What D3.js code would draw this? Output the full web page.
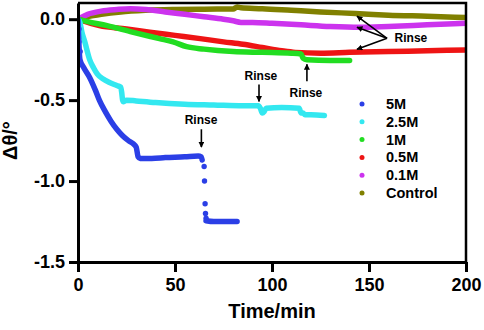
<!DOCTYPE html>
<html>
<head>
<meta charset="utf-8">
<script src="https://cdn.jsdelivr.net/npm/d3@7"></script>
<style>
  body { margin: 0; background: #fff; }
  text { font-family: "Liberation Sans", Arial, sans-serif; font-weight: bold; }
</style>
</head>
<body>
<div id="chart"></div>
<script>
// [time (min), delta theta (deg)]
const fiveM = [[0, 0], [1, -0.25], [3, -0.3], [6, -0.36], [9, -0.44], [11, -0.5], [14, -0.57], [17, -0.63],
  [20, -0.68], [23, -0.72], [26, -0.75], [28.5, -0.77], [30, -0.79], [31, -0.85], [32, -0.86], [38, -0.86],
  [45, -0.855], [55, -0.85], [62, -0.845], [63.5, -0.85], [64, -0.87]]
const fiveMStart = [[0, -0.06], [0, -0.14], [0.6, -0.2]]
const fiveMDrop = [[64.5, -0.91], [64.7, -1.0], [65, -1.14], [65.2, -1.2], [65.5, -1.23]]
const fiveMEnd = [[66, -1.245], [70, -1.25], [76, -1.25], [82, -1.25]]
const twoHalfM = [[0, 0], [1, -0.02], [2, -0.08], [3.5, -0.14], [6, -0.25], [8, -0.3], [10, -0.34], [13, -0.37],
  [16, -0.39], [20, -0.41], [22, -0.42], [22.5, -0.45], [23, -0.5], [23.5, -0.51], [25, -0.5], [30, -0.505],
  [40, -0.515], [55, -0.525], [70, -0.53], [85, -0.535], [93, -0.535], [94, -0.55], [95, -0.58], [96, -0.57],
  [97, -0.55], [105, -0.545], [114, -0.55], [115, -0.58], [116, -0.58], [117, -0.59], [120, -0.59], [127, -0.595]]
const oneM = [[0, 0], [5, -0.015], [15, -0.04], [28, -0.08], [42, -0.12], [49, -0.14], [56, -0.17], [65, -0.185],
  [80, -0.2], [95, -0.205], [110, -0.21], [115, -0.215], [116, -0.24], [118, -0.25], [130, -0.255], [140, -0.255]]
const halfM = [[0, 0], [11, -0.04], [25, -0.06], [37, -0.08], [50, -0.1], [63, -0.12], [75, -0.14], [85, -0.155],
  [95, -0.175], [105, -0.195], [112, -0.205], [125, -0.21], [140, -0.205], [160, -0.2], [180, -0.195], [200, -0.19]]
const tenthM = [[0, 0], [5, 0.03], [12, 0.05], [20, 0.06], [27, 0.065], [35, 0.06], [45, 0.045], [55, 0.03],
  [65, 0.015], [75, 0], [80, -0.01], [84, -0.02], [90, -0.02], [100, -0.025], [115, -0.035], [130, -0.045],
  [145, -0.05], [160, -0.045], [180, -0.035], [200, -0.025]]
const control = [[0, 0], [5, 0.015], [12, 0.03], [22, 0.045], [35, 0.055], [50, 0.06], [65, 0.062], [80, 0.063],
  [82, 0.075], [84, 0.07], [95, 0.065], [110, 0.055], [125, 0.045], [143, 0.035], [160, 0.025], [180, 0.018], [200, 0.01]]

const seriesNames = ['5M', '2.5M', '1M', '0.5M', '0.1M', 'Control']
const seriesColors = ['#2b3fe6', '#33e8f0', '#22dd22', '#ee1414', '#cc33ee', '#808000']
const xTicks = [0, 50, 100, 150, 200]
const yTicks = [0, -0.5, -1.0, -1.5]

// rinse annotations: label [t, v], arrows [[t0, v0], [t1, v1]] (head at t1, v1)
const rinseLabels = [[63.4, -0.65], [94.3, -0.378], [117.5, -0.483], [171.6, -0.143]]
const rinseArrows = [
  [[63.6, -0.68], [63.6, -0.79]],
  [[93.3, -0.403], [93.3, -0.508]],
  [[118, -0.384], [118, -0.279]],
  [[159.3, -0.118], [143.8, 0.019]],
  [[159.3, -0.118], [143.8, -0.05]],
  [[159.3, -0.118], [143.8, -0.186]]
]

const width = 484
const height = 330
const margin = { top: 3, right: 18, bottom: 68, left: 78 }

const svg = d3.select('#chart').append('svg')
  .attr('width', width).attr('height', height)

const x = d3.scaleLinear().domain([0, 200]).range([margin.left, width - margin.right])
const y = d3.scaleLinear().domain([-1.5, 0.1]).range([height - margin.bottom, margin.top])

svg.append('defs').append('clipPath').attr('id', 'plot')
  .append('rect')
  .attr('x', x(0)).attr('y', y(0.1))
  .attr('width', x(200) - x(0)).attr('height', y(-1.5) - y(0.1))

const line = d3.line().x(d => x(d[0])).y(d => y(d[1])).curve(d3.curveMonotoneX)

const plot = svg.append('g').attr('clip-path', 'url(#plot)')

const lines = [control, tenthM, halfM, oneM, twoHalfM]
const lineColors = [seriesColors[5], seriesColors[4], seriesColors[3], seriesColors[2], seriesColors[1]]
lines.forEach((data, i) => {
  plot.append('path')
    .attr('d', line(data))
    .attr('fill', 'none')
    .attr('stroke', lineColors[i])
    .attr('stroke-width', 5.5)
    .attr('stroke-linecap', 'round')
    .attr('stroke-linejoin', 'round')
})

;[fiveM, fiveMEnd].forEach(data => {
  plot.append('path')
    .attr('d', line(data))
    .attr('fill', 'none')
    .attr('stroke', seriesColors[0])
    .attr('stroke-width', 5.5)
    .attr('stroke-linecap', 'round')
    .attr('stroke-linejoin', 'round')
})

plot.selectAll('circle.drop')
  .data(fiveMStart.concat(fiveMDrop))
  .join('circle')
  .attr('class', 'drop')
  .attr('cx', d => x(d[0]) + 1)
  .attr('cy', d => y(d[1]))
  .attr('r', 2.7)
  .attr('fill', seriesColors[0])

// frame
svg.append('path')
  .attr('d', `M${x(0)},${y(0.1)}H${x(200)}V${y(-1.5)}`)
  .attr('fill', 'none').attr('stroke', '#000').attr('stroke-width', 2.5)

const xAxis = svg.append('g')
  .attr('transform', `translate(0,${y(-1.5)})`)
  .call(d3.axisBottom(x).tickValues(xTicks).tickSize(10).tickSizeOuter(0).tickPadding(6))
const yAxis = svg.append('g')
  .attr('transform', `translate(${x(0)},0)`)
  .call(d3.axisLeft(y).tickValues(yTicks).tickFormat(d3.format('.1f')).tickSize(9).tickSizeOuter(0).tickPadding(4))

;[xAxis, yAxis].forEach(g => {
  g.select('.domain').attr('stroke-width', 3)
  g.selectAll('.tick line').attr('stroke-width', 3)
  g.selectAll('.tick text').attr('font-size', 18).attr('fill', '#000')
    .attr('font-family', '"Liberation Sans", Arial, sans-serif').attr('font-weight', 'bold')
})
yAxis.selectAll('.tick text').text(d => d3.format('.1f')(d).replace('−', '-'))

svg.append('text')
  .attr('x', (x(0) + x(200)) / 2).attr('y', 318)
  .attr('text-anchor', 'middle').attr('font-size', 20)
  .text('Time/min')

svg.append('text')
  .attr('transform', `translate(17,${(y(0) + y(-1.5)) / 2}) rotate(-90)`)
  .attr('text-anchor', 'middle').attr('font-size', 20)
  .text('Δθ/°')

// rinse annotations
svg.append('defs').append('marker')
  .attr('id', 'head').attr('viewBox', '0 0 10 10')
  .attr('refX', 9).attr('refY', 5)
  .attr('markerWidth', 6).attr('markerHeight', 6)
  .attr('markerUnits', 'userSpaceOnUse')
  .attr('orient', 'auto')
  .append('path').attr('d', 'M0,0L10,5L0,10z').attr('fill', '#000')

svg.selectAll('line.arrow')
  .data(rinseArrows)
  .join('line')
  .attr('class', 'arrow')
  .attr('x1', d => x(d[0][0])).attr('y1', d => y(d[0][1]))
  .attr('x2', d => x(d[1][0])).attr('y2', d => y(d[1][1]))
  .attr('stroke', '#000').attr('stroke-width', 1.6)
  .attr('marker-end', 'url(#head)')

svg.selectAll('text.rinse')
  .data(rinseLabels)
  .join('text')
  .attr('class', 'rinse')
  .attr('x', d => x(d[0])).attr('y', d => y(d[1]))
  .attr('text-anchor', 'middle').attr('font-size', 12)
  .text('Rinse')

// legend
const legend = svg.append('g').attr('transform', 'translate(362,104)')
seriesNames.forEach((name, i) => {
  const row = legend.append('g').attr('transform', `translate(0,${i * 17.8})`)
  row.append('circle').attr('r', 2.5).attr('fill', seriesColors[i])
  row.append('text').attr('x', 24).attr('y', 5).attr('font-size', 14.5).text(name)
})
</script>
</body>
</html>
